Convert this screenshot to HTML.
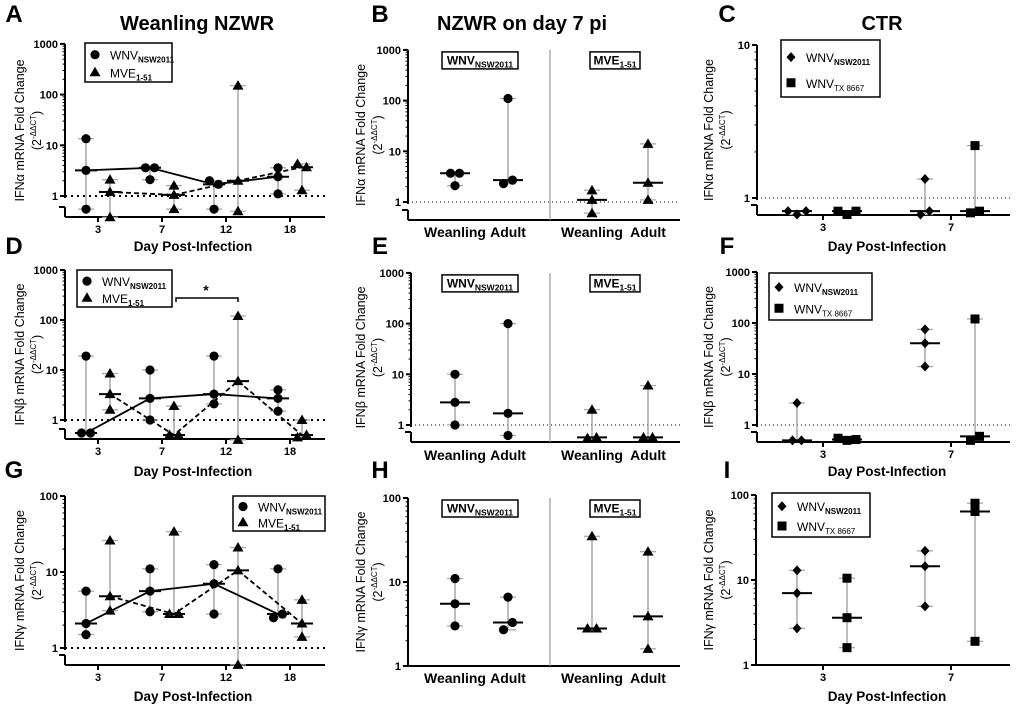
<!DOCTYPE html>
<html><head><meta charset="utf-8"><style>
body{margin:0;background:#fff;}
svg{display:block;font-family:"Liberation Sans",Arial,sans-serif;}
</style></head><body>
<svg id="fig" width="1024" height="709" viewBox="0 0 1024 709"></svg>
<script>
// ---- data ----
const dayLabelsLeft = ['3','7','12','18'];
const A_wnv = [[13.5,3.2,0.55],[3.6,3.6,2.1],[2.0,1.7,0.55],[3.6,2.4,1.1]];
const A_mve = [[2.1,1.2,0.38],[1.6,1.05,0.55],[150,2.0,0.5],[4.3,3.7,1.3]];
const D_wnv = [[0.55,19,0.55],[10,2.7,1.0],[19,2.1,3.3],[4.0,1.5,2.7]];
const D_mve = [[8.5,3.3,1.6],[1.9,0.5,0.5],[120,6,0.4],[1.0,0.45,0.5]];
const G_wnv = [[1.5,5.6,2.1],[11,5.6,3.0],[12.5,7,2.8],[11,2.5,2.8]];
const G_mve = [[26,4.8,3.1],[34,2.8,2.8],[21,10.5,0.6],[4.3,2.1,1.4]];
const groupLabelsMid = ['Weanling','Adult','Weanling','Adult'];
const B_vals = [[3.7,3.7,2.1],[110,2.3,2.7],[1.7,1.1,0.6],[14,2.4,1.1]];
const E_vals = [[10,2.8,1.0],[100,1.7,0.62],[2.0,0.55,0.57],[6,0.57,0.57]];
const H_vals = [[11,5.5,3.0],[6.6,2.7,3.3],[35,2.8,2.8],[23,3.9,1.6]];
const dayLabelsRight = ['3','7'];
const C_nsw = [[0.82,0.78,0.82],[0.78,1.33,0.82]];
const C_tx  = [[0.82,0.78,0.82],[0.8,2.2,0.82]];
const F_nsw = [[0.5,2.7,0.5],[75,40,14]];
const F_tx  = [[0.55,0.5,0.52],[0.5,120,0.6]];
const I_nsw = [[13,7,2.7],[22,14.5,4.9]];
const I_tx  = [[10.5,3.6,1.6],[80,64,1.9]];

const svg = document.getElementById('fig');
const NS = 'http://www.w3.org/2000/svg';
function mk(tag, attrs, parent){const e=document.createElementNS(NS,tag);for(const k in attrs)e.setAttribute(k,attrs[k]);(parent||svg).appendChild(e);return e;}
function txt(x,y,s,size,weight,anchor,name,extra){const t=mk('text',Object.assign({x:x,y:y,'font-size':size,'font-weight':weight||'normal','text-anchor':anchor||'middle',fill:'#000'},extra||{}));t.innerHTML=s;


return t;}
function median(a){const s=a.slice().sort((p,q)=>p-q);return s[Math.floor(s.length/2)];}

function marker(kind,x,y,name){let e;
 if(kind==='circle') e=mk('circle',{cx:x,cy:y,r:4.6,fill:'#000'});
 else if(kind==='tri') e=mk('polygon',{points:`${x},${y-5.5} ${x+5.5},${y+4} ${x-5.5},${y+4}`,fill:'#000'});
 else if(kind==='diamond') e=mk('polygon',{points:`${x},${y-5} ${x+4.5},${y} ${x},${y+5} ${x-4.5},${y}`,fill:'#000'});
 else e=mk('rect',{x:x-4.5,y:y-4.5,width:9,height:9,fill:'#000'});
 
 
 return e;}

function panel(p){
 const yv=v=>p.y1-Math.log10(v)*p.dec;
 const topY=yv(p.top);
 mk('line',{x1:p.x0,y1:topY,x2:p.x0,y2:p.brk?p.y1+2:p.axisY,stroke:'#000','stroke-width':2});
 for(let e=0;Math.pow(10,e)<=p.top;e++){
  const v=Math.pow(10,e), y=yv(v);
  mk('line',{x1:p.x0-5,y1:y,x2:p.x0,y2:y,stroke:'#000','stroke-width':2});
  txt(p.x0-7,y+4,String(v),11,'bold','end','y-tick-label');
  if(v<p.top) for(let m=2;m<10;m++){const ym=yv(v*m);mk('line',{x1:p.x0-2.5,y1:ym,x2:p.x0,y2:ym,stroke:'#000','stroke-width':1});}
 }
 if(p.brk){
  mk('line',{x1:p.x0,y1:p.axisY-10,x2:p.x0,y2:p.axisY,stroke:'#000','stroke-width':2});
  mk('line',{x1:p.x0-6,y1:p.axisY-10,x2:p.x0,y2:p.axisY-10,stroke:'#000','stroke-width':2});
 }
 if(p.dotted){const d=mk('line',{x1:p.x0,y1:p.y1,x2:p.xEnd,y2:p.y1,stroke:'#000','stroke-width':p.bigDots?2:1,'stroke-dasharray':p.bigDots?'2,4':'1,3'});
  
  }
 const xa=mk('line',{x1:p.x0,y1:p.axisY,x2:p.xEnd,y2:p.axisY,stroke:'#000','stroke-width':2});
 
 
 const g=mk('g',{transform:`translate(${p.titleX},${(topY+p.axisY)/2}) rotate(-90)`});
 const t1=txt(0,0,p.ylab+' mRNA Fold Change',12.5,'normal','middle','y-axis-title');g.appendChild(t1);
 const t2=txt(0,17,'(2<tspan font-size="8" dy="-5">-ΔΔCT</tspan><tspan dy="5">)</tspan>',12.5,'normal','middle','y-axis-title-unit');g.appendChild(t2);
 return yv;
}

function group(yv,vals,cx,kind,barW,name){
 const mn=Math.min(...vals),mx=Math.max(...vals),md=median(vals);
 mk('line',{x1:cx,y1:yv(mn),x2:cx,y2:yv(mx),stroke:'#999','stroke-width':1.3});
 [mn,mx].forEach(v=>mk('line',{x1:cx-8,y1:yv(v),x2:cx+8,y2:yv(v),stroke:'#aaa','stroke-width':1.3}));
 const bar=mk('line',{x1:cx-barW/2,y1:yv(md),x2:cx+barW/2,y2:yv(md),stroke:'#000','stroke-width':2});
 
 
 vals.forEach((v,i)=>{
  let off=0; const close=vals.filter((w,j)=>j!==i&&Math.abs(Math.log10(w)-Math.log10(v))<0.09);
  if(close.length){const idx=vals.map((w,j)=>j).filter(j=>Math.abs(Math.log10(vals[j])-Math.log10(v))<0.09);off=(idx.indexOf(i)-(idx.length-1)/2)*9;}
  marker(kind,cx+off,yv(v),name);
 });
 return [cx,yv(md)];
}

function timeCourse(p,s1,s2,k1,k2,labels,barW,lineMode){
 const yv=panel(p);
 const m1=[],m2=[];
 labels.forEach((l,i)=>{
  const tx=p.tick0+i*p.tickStep;
  mk('line',{x1:tx,y1:p.axisY,x2:tx,y2:p.axisY+5,stroke:'#000','stroke-width':2});
  txt(tx,p.axisY+16,l,11,'bold','middle','x-tick-label');
  m1.push(group(yv,s1[i],tx+p.off1,k1,barW,'point-series1'));
  m2.push(group(yv,s2[i],tx+p.off2,k2,barW,'point-series2'));
 });
 if(lineMode){
  const l1=mk('polyline',{points:m1.map(q=>q.join(',')).join(' '),fill:'none',stroke:'#000','stroke-width':1.8});
  
  
  const l2=mk('polyline',{points:m2.map(q=>q.join(',')).join(' '),fill:'none',stroke:'#000','stroke-width':1.8,'stroke-dasharray':'5,3'});
  
  
 }
 txt(p.dpiX,p.dpiY,'Day Post-Infection',13.5,'bold','middle','x-axis-title');
 return yv;
}

function catPanel(p,vals,labels){
 const yv=panel(p);
 const xs=[455,508,592,648];
 vals.forEach((v,i)=>{
  group(yv,v,xs[i],i<2?'circle':'tri',30,'point-'+labels[i].toLowerCase());
  txt(xs[i],p.labY,labels[i],14,'bold','middle','x-category-label');
 });
 const dv=mk('line',{x1:550,y1:yv(p.top),x2:550,y2:p.axisY,stroke:'#999','stroke-width':1.2});
 
 
 boxLabel(442,yv(p.top)+2,76,17,'WNV<tspan font-size="8.5" dy="3">NSW2011</tspan>','legend-wnv');
 boxLabel(590,yv(p.top)+2,50,17,'MVE<tspan font-size="8.5" dy="3">1-51</tspan>','legend-mve');
}
function boxLabel(x,y,w,h,s,name){
 mk('rect',{x:x,y:y,width:w,height:h,fill:'#fff',stroke:'#000','stroke-width':1.5});
 txt(x+w/2,y+12.5,s,12,'bold','middle',name);
}
function legend(x,y,w,h,k1,s1,k2,s2){
 const r=mk('rect',{x:x,y:y,width:w,height:h,fill:'#fff',stroke:'#000','stroke-width':1.5});
 
 
 const e1=y+h*0.3, e2=y+h*0.75;
 marker(k1,x+10,e1,'legend-marker');marker(k2,x+10,e2,'legend-marker');
 txt(x+25,e1+5,s1,12,'normal','start','legend-entry');
 txt(x+25,e2+5,s2,12,'normal','start','legend-entry');
}
const WNVs='WNV<tspan font-size="8" font-weight="bold" dy="3">NSW2011</tspan>';
const MVEs='MVE<tspan font-size="8" font-weight="bold" dy="3">1-51</tspan>';
const TXs='WNV<tspan font-size="8" dy="3">TX 8667</tspan>';

txt(197,30,'Weanling NZWR',20,'bold','middle','column-title-weanling');
txt(522,30,'NZWR on day 7 pi',20,'bold','middle','column-title-day7');
txt(882,30,'CTR',20,'bold','middle','column-title-ctr');
[['A',14,22],['B',380,22],['C',727,22],['D',14,254],['E',380,254],['F',727,254],['G',14,478],['H',380,478],['I',727,478]].forEach(a=>txt(a[1],a[2],a[0],24,'bold','middle','panel-letter-'+a[0].toLowerCase()));

timeCourse({x0:65,xEnd:325,y1:196,dec:50.7,top:1000,axisY:217,brk:true,dotted:true,bigDots:true,titleX:24,ylab:'IFNα',tick0:98,tickStep:64,off1:-12,off2:12,dpiX:193,dpiY:251},A_wnv,A_mve,'circle','tri',dayLabelsLeft,22,true);
legend(85,43,87,39,'circle',WNVs,'tri',MVEs);
timeCourse({x0:65,xEnd:325,y1:420,dec:50,top:1000,axisY:439,brk:true,dotted:true,bigDots:true,titleX:24,ylab:'IFNβ',tick0:98,tickStep:64,off1:-12,off2:12,dpiX:193,dpiY:476},D_wnv,D_mve,'circle','tri',dayLabelsLeft,22,true);
legend(77,270,95,37,'circle',WNVs,'tri',MVEs);
mk('polyline',{points:'176,302 176,298 238,298 238,302',fill:'none',stroke:'#000','stroke-width':1.5});
txt(206,295,'*',14,'bold','middle','significance-star');
timeCourse({x0:65,xEnd:325,y1:648,dec:76,top:100,axisY:665,brk:true,dotted:true,bigDots:true,titleX:24,ylab:'IFNγ',tick0:98,tickStep:64,off1:-12,off2:12,dpiX:193,dpiY:701},G_wnv,G_mve,'circle','tri',dayLabelsLeft,22,true);
legend(233,496,92,35,'circle',WNVs,'tri',MVEs);

catPanel({x0:408,xEnd:680,y1:202,dec:50.7,top:1000,axisY:220,brk:true,dotted:true,titleX:365,ylab:'IFNα',labY:237},B_vals,groupLabelsMid);
catPanel({x0:411,xEnd:680,y1:425,dec:50.7,top:1000,axisY:442,brk:true,dotted:true,titleX:365,ylab:'IFNβ',labY:460},E_vals,groupLabelsMid);
catPanel({x0:408,xEnd:680,y1:666,dec:84,top:100,axisY:666,brk:false,dotted:false,titleX:365,ylab:'IFNγ',labY:683},H_vals,groupLabelsMid);

timeCourse({x0:757,xEnd:1010,y1:198,dec:153,top:10,axisY:215,brk:true,dotted:true,titleX:713,ylab:'IFNα',tick0:823,tickStep:128,off1:-26,off2:24,dpiX:887,dpiY:251},C_nsw,C_tx,'diamond','square',dayLabelsRight,30,false);
legend(781,40,99,57,'diamond',WNVs,'square',TXs);
timeCourse({x0:757,xEnd:1010,y1:425,dec:51,top:1000,axisY:442,brk:true,dotted:true,titleX:713,ylab:'IFNβ',tick0:823,tickStep:128,off1:-26,off2:24,dpiX:887,dpiY:476},F_nsw,F_tx,'diamond','square',dayLabelsRight,30,false);
legend(769,273,103,47,'diamond',WNVs,'square',TXs);
timeCourse({x0:756,xEnd:1010,y1:665,dec:85,top:100,axisY:665,brk:false,dotted:false,titleX:713,ylab:'IFNγ',tick0:823,tickStep:128,off1:-26,off2:24,dpiX:887,dpiY:701},I_nsw,I_tx,'diamond','square',dayLabelsRight,30,false);
legend(772,493,98,44,'diamond',WNVs,'square',TXs);
</script>
</body></html>
